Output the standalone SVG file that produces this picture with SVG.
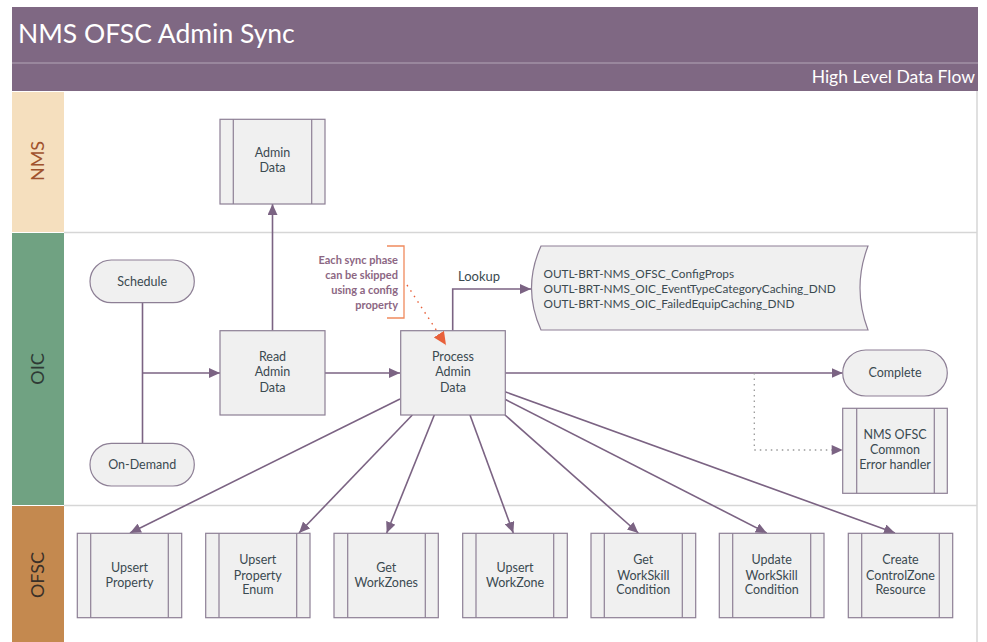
<svg xmlns="http://www.w3.org/2000/svg" width="987" height="642" viewBox="0 0 987 642">
<defs>
<style>
.hdr{fill:#7f6883}
.lbl{font-family:Lato,"Noto Sans",sans-serif}
.node rect.b{fill:#f0f0f0;stroke:#8d7f95;stroke-width:1.2}
.node line{stroke:#8d7f95;stroke-width:1.2}
.nt{font-family:Lato,"Noto Sans",sans-serif;font-size:12.5px;fill:#3b4a50;text-anchor:middle}
.conn{fill:none;stroke:#7b6383;stroke-width:1.6}
.dot{fill:none;stroke:#999;stroke-width:1.3;stroke-dasharray:1.5 4}
.odot{fill:none;stroke:#e8603a;stroke-width:1.4;stroke-dasharray:1.5 5}
.ann{font-family:Lato,"Noto Sans",sans-serif;font-size:11px;font-weight:bold;fill:#8c6683;text-anchor:end}
</style>
<marker id="ah" markerUnits="userSpaceOnUse" markerWidth="12" markerHeight="10" refX="11" refY="5" orient="auto"><path d="M0,0 L11,5 L0,10 z" fill="#7b6383"/></marker>
<marker id="aho" markerUnits="userSpaceOnUse" markerWidth="14" markerHeight="12" refX="13" refY="6" orient="auto"><path d="M0,0 L13,6 L0,12 z" fill="#e8603a"/></marker>
</defs>
<rect width="987" height="642" fill="#ffffff"/>
<g id="header">
<rect class="hdr" x="12" y="7" width="966" height="84"/>
<line x1="12" y1="63" x2="978" y2="63" stroke="#b3a6b8" stroke-width="1.2"/>
<text class="lbl" x="18" y="43" font-size="26.5" fill="#ffffff">NMS OFSC Admin Sync</text>
<text class="lbl" x="975" y="83" font-size="17.5" fill="#ffffff" text-anchor="end">High Level Data Flow</text>
</g>
<g id="lanes">
<rect x="12" y="92" width="52" height="140" fill="#f5dfbe"/>
<rect x="12" y="233" width="52" height="272" fill="#70a282"/>
<rect x="12" y="506" width="52" height="136" fill="#c4894f"/>
<line x1="64" y1="232.5" x2="977" y2="232.5" stroke="#d6d6d6" stroke-width="1.5"/>
<line x1="64" y1="505.5" x2="977" y2="505.5" stroke="#d6d6d6" stroke-width="1.5"/>
<line x1="977" y1="91" x2="977" y2="642" stroke="#d6d6d6" stroke-width="1.5"/>
<text class="lbl" font-size="18" fill="#a0522d" text-anchor="middle" transform="translate(44,161) rotate(-90)">NMS</text>
<text class="lbl" font-size="18" fill="#2f3a35" text-anchor="middle" transform="translate(44,369) rotate(-90)">OIC</text>
<text class="lbl" font-size="18" fill="#3a3028" text-anchor="middle" transform="translate(44,575) rotate(-90)">OFSC</text>
</g>
<g id="connectors">
<path class="conn" d="M142.5,302.7 V443.3"/>
<path class="conn" d="M142.5,373 H220" marker-end="url(#ah)"/>
<path class="conn" d="M272.5,330.7 V204" marker-end="url(#ah)"/>
<path class="conn" d="M325,373 H400" marker-end="url(#ah)"/>
<path class="conn" d="M452.7,330.7 V289 H531" marker-end="url(#ah)"/>
<path class="conn" d="M505,373 H842.7" marker-end="url(#ah)"/>
<path class="dot" d="M754.3,373 V450 H842.7"/>
<path d="M831.7,445 L842.7,450 L831.7,455 z" fill="#7b6383"/>
<path class="conn" d="M400,399 L130,533" marker-end="url(#ah)"/>
<path class="conn" d="M412.3,415 L299,533" marker-end="url(#ah)"/>
<path class="conn" d="M434.3,415 L386.7,533" marker-end="url(#ah)"/>
<path class="conn" d="M470,415 L513.3,533" marker-end="url(#ah)"/>
<path class="conn" d="M505,415 L638.3,533" marker-end="url(#ah)"/>
<path class="conn" d="M505,399.3 L766.7,533" marker-end="url(#ah)"/>
<path class="conn" d="M505,391.7 L895,533" marker-end="url(#ah)"/>
<text class="lbl" x="479" y="281" font-size="13" fill="#3b4a50" text-anchor="middle">Lookup</text>
</g>
<g id="admin-data" class="node">
<rect class="b" x="220" y="119.3" width="105" height="84.7"/>
<line x1="233.3" y1="119.3" x2="233.3" y2="204"/><line x1="311.7" y1="119.3" x2="311.7" y2="204"/>
<text class="nt" x="272.5" y="157">Admin</text><text class="nt" x="272.5" y="172">Data</text>
</g>
<g id="schedule" class="node">
<rect class="b" x="90" y="260" width="104.3" height="42.7" rx="21.3"/>
<text class="nt" x="142.2" y="285.5">Schedule</text>
</g>
<g id="on-demand" class="node">
<rect class="b" x="90" y="443.3" width="104.3" height="42.7" rx="21.3"/>
<text class="nt" x="142.2" y="468.5">On-Demand</text>
</g>
<g id="read-admin-data" class="node">
<rect class="b" x="220" y="330.7" width="105" height="84.3"/>
<text class="nt" x="272.5" y="361">Read</text><text class="nt" x="272.5" y="376">Admin</text><text class="nt" x="272.5" y="392">Data</text>
</g>
<g id="process-admin-data" class="node">
<rect class="b" x="400.7" y="330.7" width="104.6" height="84.3"/>
<text class="nt" x="453" y="361">Process</text><text class="nt" x="453" y="376">Admin</text><text class="nt" x="453" y="392">Data</text>
</g>
<g id="config-store" class="node">
<path d="M541,246 L868,246 Q852,288 868,330 L541,330 Q522,288 541,246 Z" fill="#f0f0f0" stroke="#8d7f95" stroke-width="1.2"/>
<text class="lbl" x="543.5" y="277.5" font-size="11.8" fill="#3b4a50">OUTL-BRT-NMS_OFSC_ConfigProps</text>
<text class="lbl" x="543.5" y="292.5" font-size="11.8" fill="#3b4a50">OUTL-BRT-NMS_OIC_EventTypeCategoryCaching_DND</text>
<text class="lbl" x="543.5" y="307.5" font-size="11.8" fill="#3b4a50">OUTL-BRT-NMS_OIC_FailedEquipCaching_DND</text>
</g>
<g id="complete" class="node">
<rect class="b" x="842.7" y="350" width="104.6" height="46" rx="23"/>
<text class="nt" x="895" y="377">Complete</text>
</g>
<g id="error-handler" class="node">
<rect class="b" x="842.7" y="408.3" width="104.6" height="85"/>
<line x1="856.7" y1="408.3" x2="856.7" y2="493.3"/><line x1="934.3" y1="408.3" x2="934.3" y2="493.3"/>
<text class="nt" x="895" y="439">NMS OFSC</text><text class="nt" x="895" y="454">Common</text><text class="nt" x="895" y="469">Error handler</text>
</g>
<g id="upsert-property" class="node">
<rect class="b" x="77.3" y="533.3" width="104.4" height="84.4"/>
<line x1="90.7" y1="533.3" x2="90.7" y2="617.7"/><line x1="168.3" y1="533.3" x2="168.3" y2="617.7"/>
<text class="nt" x="129.5" y="571.5">Upsert</text><text class="nt" x="129.5" y="586.5">Property</text>
</g>
<g id="upsert-property-enum" class="node">
<rect class="b" x="205.7" y="533.3" width="104.3" height="84.4"/>
<line x1="219" y1="533.3" x2="219" y2="617.7"/><line x1="296.7" y1="533.3" x2="296.7" y2="617.7"/>
<text class="nt" x="257.8" y="564">Upsert</text><text class="nt" x="257.8" y="579.5">Property</text><text class="nt" x="257.8" y="594">Enum</text>
</g>
<g id="get-workzones" class="node">
<rect class="b" x="334" y="533.3" width="104.3" height="84.4"/>
<line x1="347.7" y1="533.3" x2="347.7" y2="617.7"/><line x1="425.3" y1="533.3" x2="425.3" y2="617.7"/>
<text class="nt" x="386.2" y="571.5">Get</text><text class="nt" x="386.2" y="586.5">WorkZones</text>
</g>
<g id="upsert-workzone" class="node">
<rect class="b" x="462.7" y="533.3" width="104.6" height="84.4"/>
<line x1="476" y1="533.3" x2="476" y2="617.7"/><line x1="553.7" y1="533.3" x2="553.7" y2="617.7"/>
<text class="nt" x="515" y="571.5">Upsert</text><text class="nt" x="515" y="586.5">WorkZone</text>
</g>
<g id="get-workskill-condition" class="node">
<rect class="b" x="591" y="533.3" width="104.7" height="84.4"/>
<line x1="604.3" y1="533.3" x2="604.3" y2="617.7"/><line x1="682.3" y1="533.3" x2="682.3" y2="617.7"/>
<text class="nt" x="643.3" y="564">Get</text><text class="nt" x="643.3" y="579.5">WorkSkill</text><text class="nt" x="643.3" y="594">Condition</text>
</g>
<g id="update-workskill-condition" class="node">
<rect class="b" x="719.3" y="533.3" width="104.7" height="84.4"/>
<line x1="732.7" y1="533.3" x2="732.7" y2="617.7"/><line x1="810.7" y1="533.3" x2="810.7" y2="617.7"/>
<text class="nt" x="771.7" y="564">Update</text><text class="nt" x="771.7" y="579.5">WorkSkill</text><text class="nt" x="771.7" y="594">Condition</text>
</g>
<g id="create-controlzone-resource" class="node">
<rect class="b" x="848.3" y="533.3" width="104.4" height="84.4"/>
<line x1="861.7" y1="533.3" x2="861.7" y2="617.7"/><line x1="939.3" y1="533.3" x2="939.3" y2="617.7"/>
<text class="nt" x="900.5" y="564">Create</text><text class="nt" x="900.5" y="579.5">ControlZone</text><text class="nt" x="900.5" y="594">Resource</text>
</g>
<g id="annotation">
<path d="M387,246 H404 V318 H387" fill="none" stroke="#f08a5d" stroke-width="1.3"/>
<text class="ann" x="398" y="264">Each sync phase</text>
<text class="ann" x="398" y="279">can be skipped</text>
<text class="ann" x="398" y="294">using a config</text>
<text class="ann" x="398" y="309">property</text>
<path class="odot" d="M407,285 L446,345" marker-end="url(#aho)"/>
</g>
</svg>
